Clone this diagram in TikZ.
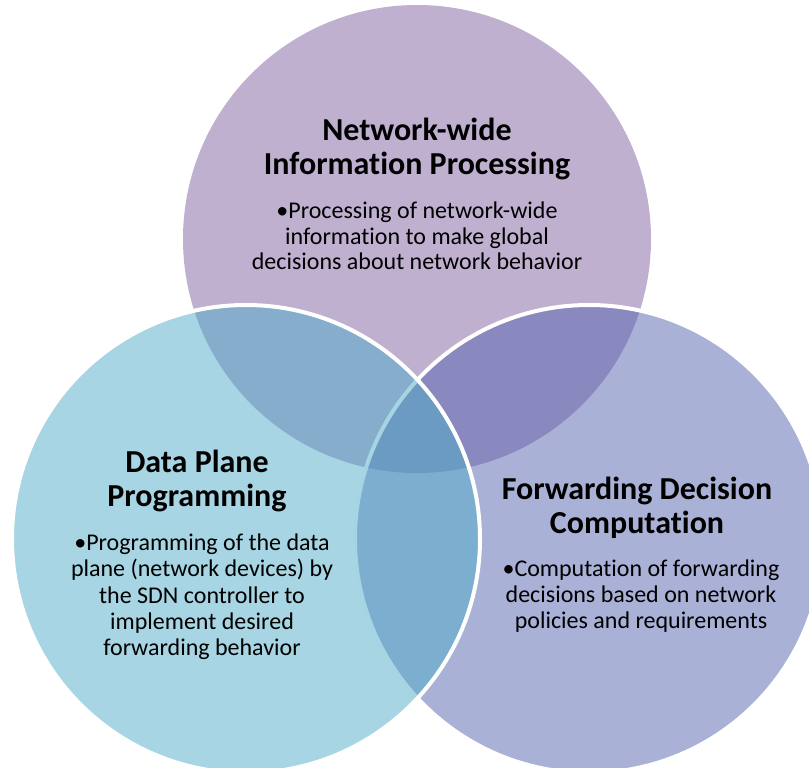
\documentclass[tikz,border=0pt]{standalone}
\usepackage{fontspec}
\setmainfont{Carlito}[Ligatures=NoCommon]
\begin{document}
\begin{tikzpicture}[x=1pt,y=-1pt,
  ring/.style={draw=white,line width=4pt},
  heading/.style={align=center,inner sep=0pt,font=\fontsize{32}{34}\selectfont\bfseries},
  detail/.style={align=center,inner sep=0pt,font=\fontsize{24}{25.3}\selectfont},
  widedetail/.style={detail,font=\fontsize{24}{26.3}\selectfont}]
\definecolor{topfill}{RGB}{191,176,208}
\definecolor{rightfill}{RGB}{85,99,175}
\definecolor{leftfill}{RGB}{79,171,199}
\useasboundingbox (0,0) rectangle (809,768);
\clip (0,0) rectangle (809,768);
% circles: top, right, then left on top
\fill[topfill] (417,239) circle[radius=234];
\filldraw[ring,fill=rightfill,fill opacity=0.5,draw opacity=1] (589,539) circle[radius=234];
\filldraw[ring,fill=leftfill,fill opacity=0.5,draw opacity=1] (246,539) circle[radius=234];
% texts
\node[heading] (th) at (417,149) {Network-wide\\Information Processing};
\node[detail]  (tb) at (417,236) {•Processing of network-wide\\information to make global\\decisions about network behavior};
\node[heading] (lh) at (197,481) {Data Plane\\Programming};
\node[widedetail] (lb) at (202,597) {•Programming of the data\\plane (network devices) by\\the SDN controller to\\implement desired\\forwarding behavior};
\node[heading] (rh) at (637,508) {Forwarding Decision\\Computation};
\node[widedetail] (rb) at (641,596) {•Computation of forwarding\\decisions based on network\\policies and requirements};
\end{tikzpicture}
\end{document}
